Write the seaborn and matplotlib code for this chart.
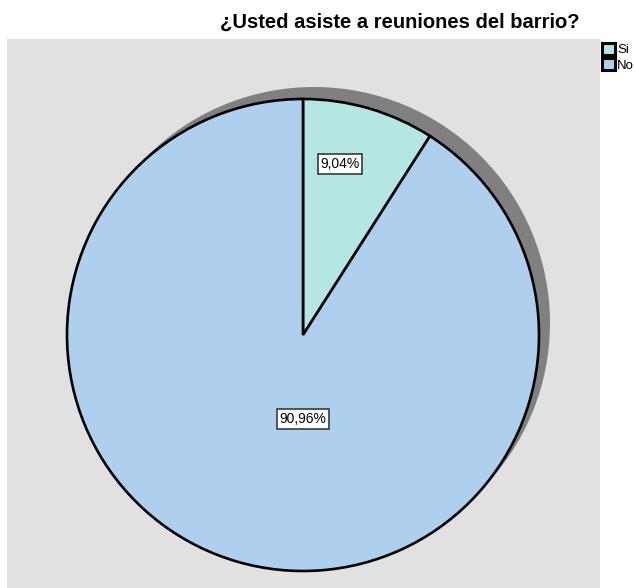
import matplotlib
matplotlib.use('Agg')
import matplotlib.pyplot as plt
import matplotlib.patches as mpatches
import seaborn as sns

sns.set_style('white')
plt.rcParams['font.family'] = ['Liberation Sans', 'DejaVu Sans']
plt.rcParams['text.color'] = 'black'

title = '¿Usted asiste a reuniones del barrio?'
categories = ['Si', 'No']
percents = [9.04, 90.96]
colors = ['#b4e6e4', '#aecfee']

W, H = 635, 588
fig = plt.figure(figsize=(W / 100, H / 100), dpi=100)

# gray plot panel (pixels)
px0, py0, pw, ph = 7, 39, 593, 549
ax = fig.add_axes([px0 / W, 1 - (py0 + ph) / H, pw / W, ph / H])
ax.add_patch(mpatches.Rectangle((0, 0), pw, ph, facecolor='#e1e1e1', edgecolor='none', zorder=0))

cx, cy, r = 303 - px0, H - 335, 236

# drop shadow
ax.add_patch(mpatches.Circle((cx + 11, cy + 12), r, facecolor='#808080', edgecolor='none', zorder=1))

wedges, texts, autotexts = ax.pie(
    percents, colors=colors, startangle=90, counterclock=False,
    center=(cx, cy), radius=r, frame=True,
    autopct=lambda p: f'{p:.2f}%'.replace('.', ','),
    wedgeprops=dict(edgecolor='black', linewidth=1.9, zorder=2),
    textprops=dict(fontsize=10, color='black', zorder=3))
ax.set_xlim(0, pw)
ax.set_ylim(0, ph)
ax.set_aspect('equal')
ax.axis('off')

# label placement like the original
label_offsets = [(37, 171), (0, -84)]
for t, (dx, dy) in zip(autotexts, label_offsets):
    t.set_position((cx + dx, cy + dy))
    t.set_ha('center')
    t.set_va('center')
    t.set_bbox(dict(boxstyle='square,pad=0.2', facecolor='white', edgecolor='#3a3a3a', linewidth=1.2))

fig.text(400 / W, 1 - 22 / H, title, ha='center', va='center', fontsize=14.5,
         fontweight='bold', color='black')

handles = [mpatches.Patch(facecolor=c, edgecolor='black', linewidth=2.2, label=lab)
           for c, lab in zip(colors, categories)]
fig.legend(handles=handles, loc='upper left', bbox_to_anchor=(602 / W, 1 - 43 / H),
           frameon=False, fontsize=9.5, handlelength=1.0, handleheight=1.0,
           handletextpad=0.15, labelspacing=0.15, borderpad=0, borderaxespad=0,
           labelcolor='black')

fig.savefig('out.png', dpi=100)
